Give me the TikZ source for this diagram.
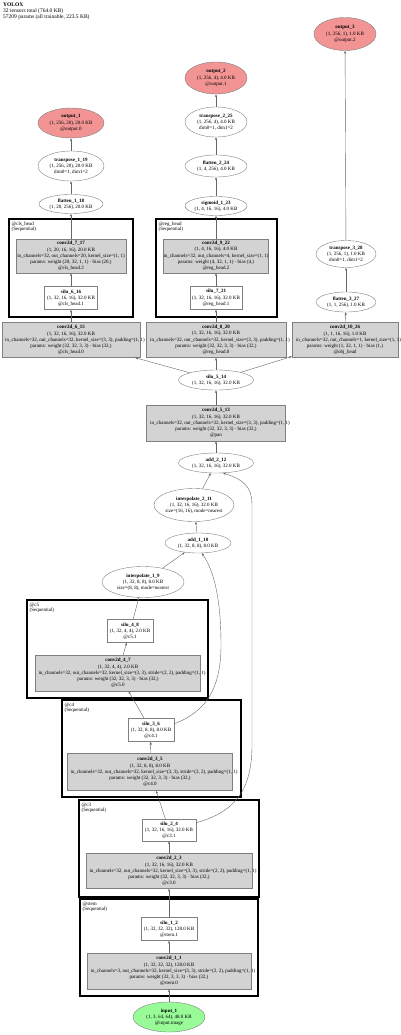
\documentclass[tikz,border=0pt]{standalone}
\usepackage{fontspec}
\setmainfont{Liberation Serif}
\usetikzlibrary{shapes.geometric, arrows.meta}
\definecolor{outred}{HTML}{F29494}
\definecolor{ingreen}{HTML}{98FB98}
\definecolor{modgray}{HTML}{D3D3D3}
\newcommand{\wideline}[2][8]{\makebox[0pt]{\hspace{#1pt}#2}}

\begin{document}
\begin{tikzpicture}[>={Stealth[length=3pt, width=2.2pt]}, x=1pt, y=-1pt]
\tikzset{
    dims/.style 2 args={minimum width=#1pt, minimum height=#2pt},
    tensor/.style={ellipse, draw=gray, inner sep=0.5pt, align=center, font=\fontsize{5}{6.2}\selectfont},
    outtensor/.style={tensor, fill=outred},
    intensor/.style={tensor, fill=ingreen},
    module/.style={rectangle, draw=gray, fill=modgray, inner sep=1pt, align=center, font=\fontsize{5}{6.2}\selectfont},
    act/.style={module, fill=white},
    cluster/.style={draw=black, line width=1.6pt},
    cluslabel/.style={anchor=north west, align=left, inner sep=0.5pt, font=\fontsize{5}{5.6}\selectfont},
    edge/.style={->, draw=black!60, line width=0.4pt}
}
\useasboundingbox (0,0) rectangle (400,1035);

% --- title ---
\node[anchor=north west, align=left, inner sep=0pt, font=\fontsize{5.5}{6}\selectfont] (title) at (3,3)
    {\textbf{YOLOX}\\32 tensors total (764.0 KB)\\57209 params (all trainable, 223.5 KB)};

% --- clusters ---
\draw[cluster] (9,219) rectangle (133,317);
\node[cluslabel] (lblclshead) at (11,221) {@cls\_head\\(Sequential)};
\draw[cluster] (156,219) rectangle (277,317);
\node[cluslabel] (lblreghead) at (158,221) {@reg\_head\\(Sequential)};
\draw[cluster] (27,600) rectangle (208,698);
\node[cluslabel] (lblcfive) at (29,602) {@c5\\(Sequential)};
\draw[cluster] (62,700) rectangle (241,797);
\node[cluslabel] (lblcfour) at (64,702) {@c4\\(Sequential)};
\draw[cluster] (79,800) rectangle (259,897);
\node[cluslabel] (lblcthree) at (81,802) {@c3\\(Sequential)};
\draw[cluster] (80,899) rectangle (258,996);
\node[cluslabel] (lblstem) at (82,901) {@stem\\(Sequential)};

% --- outputs and heads ---
\node[outtensor, dims={62}{33}] (out3) at (345,34) {\textbf{output\_3}\\(1, 256, 1), 1.0 KB\\@output.2};
\node[outtensor, dims={62}{32}] (out2) at (216,78) {\textbf{output\_2}\\(1, 256, 4), 4.0 KB\\@output.1};
\node[outtensor, dims={66}{30}] (out1) at (71,123) {\textbf{output\_1}\\(1, 256, 20), 20.0 KB\\@output.0};

\node[tensor, dims={66}{30}] (tr19) at (71,166) {\textbf{transpose\_1\_19}\\(1, 256, 20), 20.0 KB\\dim0=1, dim1=2};
\node[tensor, dims={64}{19}] (fl18) at (71,204) {\textbf{flatten\_1\_18}\\(1, 20, 256), 20.0 KB};
\node[tensor, dims={62}{30}] (tr25) at (216,122) {\textbf{transpose\_2\_25}\\(1, 256, 4), 4.0 KB\\dim0=1, dim1=2};
\node[tensor, dims={62}{22}] (fl24) at (216,166) {\textbf{flatten\_2\_24}\\(1, 4, 256), 4.0 KB};
\node[tensor, dims={60}{19}] (sg23) at (216,206) {\textbf{sigmoid\_1\_23}\\(1, 4, 16, 16), 4.0 KB};
\node[tensor, dims={60}{27}] (tr28) at (346,254) {\textbf{transpose\_3\_28}\\(1, 256, 1), 1.0 KB\\dim0=1, dim1=2};
\node[tensor, dims={60}{20}] (fl27) at (346,302) {\textbf{flatten\_3\_27}\\(1, 1, 256), 1.0 KB};

\node[module, dims={110}{34}] (c717) at (71,256) {\textbf{conv2d\_7\_17}\\(1, 20, 16, 16), 20.0 KB\\\wideline[0]{in\_channels=32, out\_channels=20, kernel\_size=(1, 1)}\\params: weight (20, 32, 1, 1) · bias (20,)\\@cls\_head.2};
\node[act, dims={53}{23}] (s616) at (71,298) {\textbf{silu\_6\_16}\\(1, 32, 16, 16), 32.0 KB\\@cls\_head.1};
\node[module, dims={105}{34}] (c922) at (216,256) {\textbf{conv2d\_9\_22}\\(1, 4, 16, 16), 4.0 KB\\\wideline[0]{in\_channels=32, out\_channels=4, kernel\_size=(1, 1)}\\params: weight (4, 32, 1, 1) · bias (4,)\\@reg\_head.2};
\node[act, dims={52}{23}] (s721) at (216,298) {\textbf{silu\_7\_21}\\(1, 32, 16, 16), 32.0 KB\\@reg\_head.1};

\node[module, dims={138}{35}] (c615) at (71,340) {\textbf{conv2d\_6\_15}\\(1, 32, 16, 16), 32.0 KB\\\wideline{in\_channels=32, out\_channels=32, kernel\_size=(3, 3), padding=(1, 1)}\\params: weight (32, 32, 3, 3) · bias (32,)\\@cls\_head.0};
\node[module, dims={140}{35}] (c820) at (216,340) {\textbf{conv2d\_8\_20}\\(1, 32, 16, 16), 32.0 KB\\\wideline{in\_channels=32, out\_channels=32, kernel\_size=(3, 3), padding=(1, 1)}\\params: weight (32, 32, 3, 3) · bias (32,)\\@reg\_head.0};
\node[module, dims={106}{35}] (c1026) at (345,340) {\textbf{conv2d\_10\_26}\\(1, 1, 16, 16), 1.0 KB\\\wideline[7]{in\_channels=32, out\_channels=1, kernel\_size=(1, 1)}\\params: weight (1, 32, 1, 1) · bias (1,)\\@obj\_head};

% --- neck ---
\node[tensor, dims={75}{20}] (s514) at (216,380) {\textbf{silu\_5\_14}\\(1, 32, 16, 16), 32.0 KB};
\node[module, dims={139}{36}] (c513) at (216,423) {\textbf{conv2d\_5\_13}\\(1, 32, 16, 16), 32.0 KB\\\wideline{in\_channels=32, out\_channels=32, kernel\_size=(3, 3), padding=(1, 1)}\\params: weight (32, 32, 3, 3) · bias (32,)\\@pan};
\node[tensor, dims={75}{20}] (a212) at (216,463) {\textbf{add\_2\_12}\\(1, 32, 16, 16), 32.0 KB};
\node[tensor, dims={80}{33}] (i211) at (194,505) {\textbf{interpolate\_2\_11}\\(1, 32, 16, 16), 32.0 KB\\\wideline[0]{size=(16, 16), mode=nearest}};
\node[tensor, dims={66}{20}] (a110) at (198,543) {\textbf{add\_1\_10}\\(1, 32, 8, 8), 8.0 KB};
\node[tensor, dims={82}{31}] (i19) at (143,582) {\textbf{interpolate\_1\_9}\\(1, 32, 8, 8), 8.0 KB\\\wideline[0]{size=(8, 8), mode=nearest}};

% --- backbone ---
\node[act, dims={46}{23}] (s48) at (130,631) {\textbf{silu\_4\_8}\\(1, 32, 4, 4), 2.0 KB\\@c5.1};
\node[module, dims={165}{36}] (c47) at (118,673) {\textbf{conv2d\_4\_7}\\(1, 32, 4, 4), 2.0 KB\\\wideline{in\_channels=32, out\_channels=32, kernel\_size=(3, 3), stride=(2, 2), padding=(1, 1)}\\params: weight (32, 32, 3, 3) · bias (32,)\\@c5.0};
\node[act, dims={46}{23}] (s36) at (151,730) {\textbf{silu\_3\_6}\\(1, 32, 8, 8), 8.0 KB\\@c4.1};
\node[module, dims={165}{37}] (c35) at (150,772) {\textbf{conv2d\_3\_5}\\(1, 32, 8, 8), 8.0 KB\\\wideline{in\_channels=32, out\_channels=32, kernel\_size=(3, 3), stride=(2, 2), padding=(1, 1)}\\params: weight (32, 32, 3, 3) · bias (32,)\\@c4.0};
\node[act, dims={54}{22}] (s24) at (169,830) {\textbf{silu\_2\_4}\\(1, 32, 16, 16), 32.0 KB\\@c3.1};
\node[module, dims={166}{35}] (c23) at (169,871) {\textbf{conv2d\_2\_3}\\(1, 32, 16, 16), 32.0 KB\\\wideline{in\_channels=32, out\_channels=32, kernel\_size=(3, 3), stride=(2, 2), padding=(1, 1)}\\params: weight (32, 32, 3, 3) · bias (32,)\\@c3.0};
\node[act, dims={56}{23}] (s12) at (169,929) {\textbf{silu\_1\_2}\\(1, 32, 32, 32), 128.0 KB\\@stem.1};
\node[module, dims={164}{36}] (c11) at (169,971) {\textbf{conv2d\_1\_1}\\(1, 32, 32, 32), 128.0 KB\\\wideline{in\_channels=3, out\_channels=32, kernel\_size=(3, 3), stride=(2, 2), padding=(1, 1)}\\params: weight (32, 3, 3, 3) · bias (32,)\\@stem.0};
\node[intensor, dims={72}{30}] (in1) at (169,1017) {\textbf{input\_1}\\(1, 3, 64, 64), 48.0 KB\\@input.image};

% --- edges, bottom to top ---
\draw[edge] (in1) -- (c11);
\draw[edge] (c11) -- (s12);
\draw[edge] (s12) -- (c23);
\draw[edge] (c23) -- (s24);
\draw[edge] (s24) -- (c35);
\draw[edge] (c35) -- (s36);
\draw[edge] (s36) -- (c47);
\draw[edge] (c47) -- (s48);
\draw[edge] (s48) -- (i19);
\draw[edge] (i19) -- (a110);
\draw[edge] (a110) -- (i211);
\draw[edge] (i211) -- (a212);
\draw[edge] (a212) -- (c513);
\draw[edge] (c513) -- (s514);

% skip connections
\draw[edge] (s36.15) .. controls (205,712) and (221,690) .. (221,645)
    .. controls (221,600) and (214,570) .. (a110.-70);
\draw[edge] (s24.15) .. controls (235,812) and (252,790) .. (252,745)
    -- (252,505) .. controls (252,488) and (245,480) .. (a212.-55);

% heads
\draw[edge] (s514) -- (c615);
\draw[edge] (s514) -- (c820);
\draw[edge] (s514) -- (c1026);
\draw[edge] (c615) -- (s616);
\draw[edge] (s616) -- (c717);
\draw[edge] (c717) -- (fl18);
\draw[edge] (fl18) -- (tr19);
\draw[edge] (tr19) -- (out1);
\draw[edge] (c820) -- (s721);
\draw[edge] (s721) -- (c922);
\draw[edge] (c922) -- (sg23);
\draw[edge] (sg23) -- (fl24);
\draw[edge] (fl24) -- (tr25);
\draw[edge] (tr25) -- (out2);
\draw[edge] (c1026) -- (fl27);
\draw[edge] (fl27) -- (tr28);
\draw[edge] (tr28) -- (out3);

\end{tikzpicture}
\end{document}
